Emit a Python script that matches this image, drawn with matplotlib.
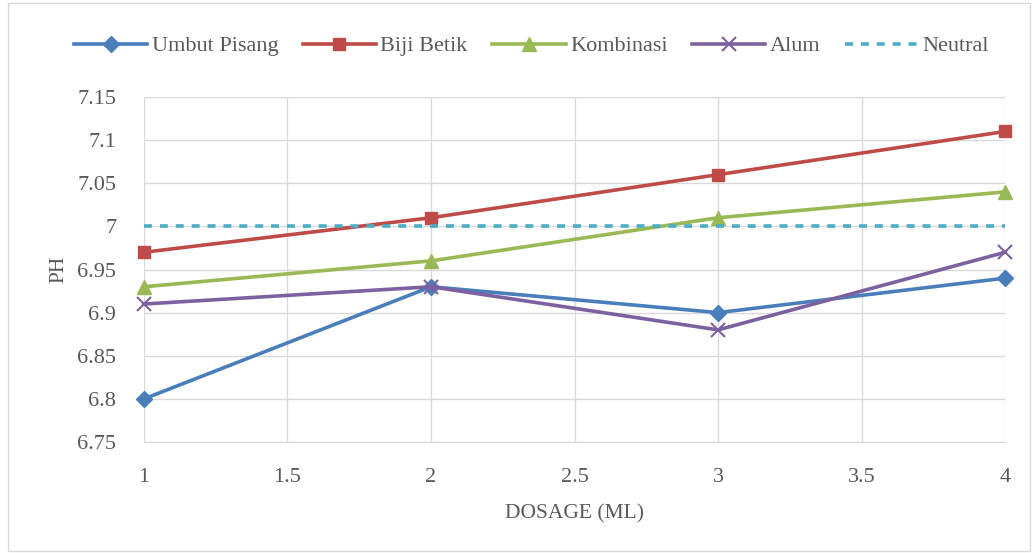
import matplotlib.pyplot as plt
from matplotlib.patches import Rectangle

dosage = [1, 2, 3, 4]
umbut_pisang = [6.80, 6.93, 6.90, 6.94]
biji_betik = [6.97, 7.01, 7.06, 7.11]
kombinasi = [6.93, 6.96, 7.01, 7.04]
alum = [6.91, 6.93, 6.88, 6.97]
neutral = [7.0, 7.0, 7.0, 7.0]

x_ticks = [1, 1.5, 2, 2.5, 3, 3.5, 4]
y_ticks = [6.75, 6.8, 6.85, 6.9, 6.95, 7.0, 7.05, 7.1, 7.15]

plt.rcParams['font.family'] = ['Liberation Serif', 'DejaVu Serif']

fig = plt.figure(figsize=(10.32, 5.53), dpi=100)
ax = fig.add_axes([0.1395, 0.2007, 0.8345, 0.6239])

fig.patches.append(Rectangle((0.008, 0.004), 0.99, 0.99, transform=fig.transFigure,
                             fill=False, edgecolor='#D9D9D9', linewidth=1))

lw = 2.6
ax.plot(dosage, umbut_pisang, color='#4A7EBB', lw=lw, marker='D', ms=8.5, label='Umbut Pisang', clip_on=False)
ax.plot(dosage, biji_betik, color='#BE4B48', lw=lw, marker='s', ms=8.5, label='Biji Betik', clip_on=False)
ax.plot(dosage, kombinasi, color='#98B954', lw=lw, marker='^', ms=9.5, label='Kombinasi', clip_on=False)
ax.plot(dosage, alum, color='#7D60A0', lw=lw, marker='x', ms=9.5, mew=1.5, label='Alum', clip_on=False)
ax.plot(dosage, neutral, color='#4BACC6', lw=lw, ls=(0, (2.2, 2.2)), label='Neutral', clip_on=False)

ax.set_xlim(1, 4)
ax.set_ylim(6.75, 7.15)
ax.set_xticks(x_ticks)
ax.set_xticklabels(['1', '1.5', '2', '2.5', '3', '3.5', '4'])
ax.set_yticks(y_ticks)
ax.set_yticklabels(['6.75', '6.8', '6.85', '6.9', '6.95', '7', '7.05', '7.1', '7.15'])
ax.grid(True, color='#D9D9D9', lw=1)
ax.set_axisbelow(True)
for s in ax.spines.values():
    s.set_visible(False)
ax.spines['bottom'].set_visible(True)
ax.spines['bottom'].set_color('#D9D9D9')
ax.tick_params(length=0, labelsize=16, colors='#595959')
ax.tick_params(axis='x', pad=19)
ax.tick_params(axis='y', pad=20)
ax.set_xlabel('DOSAGE (ML)', fontsize=15.5, color='#595959', labelpad=12)
ax.set_ylabel('PH', fontsize=15.5, color='#595959', labelpad=6)

ax.legend(loc='lower center', bbox_to_anchor=(0.45, 1.06), ncol=5, frameon=False,
          fontsize=16, labelcolor='#595959', handlelength=3.3, handletextpad=0.2,
          columnspacing=1.1)

fig.savefig('out.png', dpi=100)
